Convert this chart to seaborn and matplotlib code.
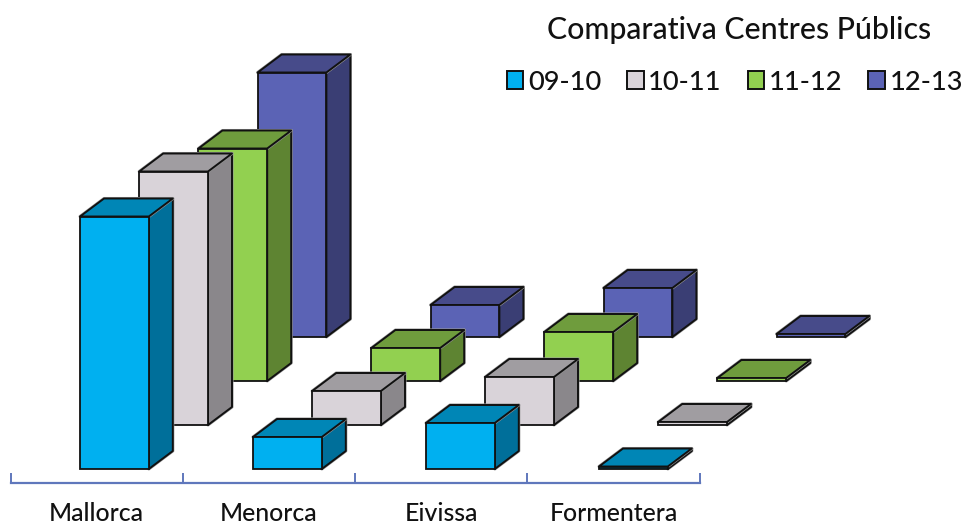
import matplotlib
matplotlib.use("Agg")
import matplotlib.pyplot as plt
import matplotlib.patheffects as pe
from matplotlib.patches import Patch
import numpy as np
import pandas as pd
import seaborn as sns

# ---- data (heights) ----
islands = ["Mallorca", "Menorca", "Eivissa", "Formentera"]
series_names = ["09-10", "10-11", "11-12", "12-13"]
v0910 = [252.5, 32, 46, 2.5]
v1011 = [253.5, 34, 48, 3]
v1112 = [232.5, 33, 49, 3]
v1213 = [264.5, 32, 49, 3]
series_values = [v0910, v1011, v1112, v1213]

front_colors = ["#00B0F0", "#D9D3D9", "#92D050", "#5B63B5"]
side_colors = ["#006F9A", "#8A878B", "#5E8432", "#3A3E74"]
top_colors = ["#0086B6", "#A09DA1", "#6F9C3D", "#474B8A"]

# ---- oblique projection settings ----
W, H = 965, 524
CAT = 173.0          # px per category
BAR_W = 68.8 / CAT   # in category units
DX = 59.2 / CAT      # shift per series (category units)
DY = 44.0            # shift per series (value units)
DEPTH_X = 24.0 / CAT
DEPTH_Y = 18.0
BASE_PX = 469.0

sns.set_theme(style="white")
plt.rcParams["font.family"] = ["Lato", "DejaVu Sans"]

fig = plt.figure(figsize=(W / 100, H / 100), dpi=100)
ax = fig.add_axes([0, 0, 1, 1])
halo = [pe.withStroke(linewidth=2.2, foreground="#9A9A9A")]
EDGE = dict(edgecolor="#111111", linewidth=1.4, joinstyle="round")

for s in reversed(range(4)):
    z = 5 - s
    lefts = np.arange(4) + s * DX
    base = s * DY
    df = pd.DataFrame({"x": lefts + BAR_W / 2, "y": series_values[s]})
    for c, (l, v) in enumerate(zip(lefts, series_values[s])):
        r = l + BAR_W
        t = base + v
        ax.fill([r, r + DEPTH_X, r + DEPTH_X, r],
                [base, base + DEPTH_Y, t + DEPTH_Y, t],
                facecolor=side_colors[s], zorder=z, path_effects=halo, **EDGE)
        ax.fill([l, r, r + DEPTH_X, l + DEPTH_X],
                [t, t, t + DEPTH_Y, t + DEPTH_Y],
                facecolor=top_colors[s], zorder=z, path_effects=halo, **EDGE)
    sns.barplot(data=df, x="x", y="y", native_scale=True, width=BAR_W,
                bottom=base, color=front_colors[s], saturation=1,
                errorbar=None, ax=ax, zorder=z + 0.5,
                edgecolor="#111111", linewidth=1.3)

# ---- pixel-aligned limits ----
x_at_px0 = -80.0 / CAT
ax.set_xlim(x_at_px0, x_at_px0 + W / CAT)
ax.set_ylim(BASE_PX - H, BASE_PX)
ax.set_xlabel("")
ax.set_ylabel("")
ax.patch.set_alpha(0)

# ---- category axis: boundaries as major ticks, names as minor ticks ----
edges = (np.array([10.7, 182.8, 355, 527, 700]) - 80.0) / CAT
centers = (edges[:-1] + edges[1:]) / 2
axis_color = "#5F77BC"
for name in ("top", "right", "left"):
    ax.spines[name].set_visible(False)
ax.spines["bottom"].set_visible(True)
ax.spines["bottom"].set_position(("data", BASE_PX - 483))
ax.spines["bottom"].set_bounds(edges[0], edges[-1])
ax.spines["bottom"].set_color(axis_color)
ax.spines["bottom"].set_linewidth(1.6)
ax.set_yticks([])
ax.set_xticks(edges)
ax.set_xticklabels([""] * len(edges))
ax.set_xticks(centers, minor=True)
ax.set_xticklabels(islands, minor=True, fontsize=17.8, fontweight="medium", color="#111111")
ax.tick_params(axis="x", which="major", direction="in", length=7.5, width=1.4,
               color=axis_color, bottom=True)
ax.tick_params(axis="x", which="minor", length=0, pad=13.5, bottom=True)

# ---- title and legend ----
ax.text(739 / W, 1 - 29.5 / H, "Comparativa Centres Públics", transform=ax.transAxes,
        ha="center", va="center", fontsize=21.8, fontweight="medium", color="#111111")
handles = [Patch(facecolor=f, edgecolor="#111111", linewidth=1.4) for f in front_colors]
leg = ax.legend(handles, series_names, ncol=4, frameon=False,
                prop={"size": 19.6, "weight": "medium"},
                loc="center left", bbox_to_anchor=(493 / W, 1 - 82 / H),
                handlelength=0.62, handleheight=0.62, handletextpad=0.16,
                columnspacing=0.95, borderpad=0, labelcolor="#111111")

fig.savefig("out.png", dpi=100)
